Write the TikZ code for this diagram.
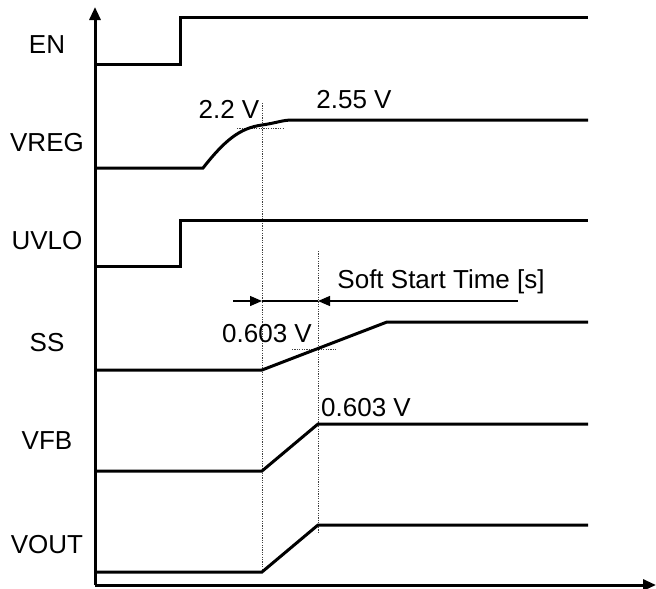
\documentclass[tikz,border=0pt]{standalone}
\usepackage{fontspec}
\setmainfont{Liberation Sans}
\usetikzlibrary{arrows.meta}
\begin{document}
\begin{tikzpicture}[x=1pt,y=-1pt,
  lbl/.style={font=\fontsize{26}{30}\selectfont, inner sep=0pt},
  wave/.style={line width=3pt, line join=miter},
  axisline/.style={line width=3pt, -{Triangle[length=13pt,width=11pt]}},
  guide/.style={line width=0.9pt, dash pattern=on 1.2pt off 1.2pt, black!75},
  dimarrow/.style={line width=1.3pt, -{Triangle[length=12pt,width=10pt]}}]
\useasboundingbox (0,0) rectangle (656,589);
% axes
\coordinate (O) at (95,585);
\coordinate (ytip) at (95,7);
\coordinate (xtip) at (656,585);
\draw[axisline] (O) -- (ytip);
\draw[axisline] (O) -- (xtip);
% signal labels
\node[lbl] (en) at (47,45) {EN};
\node[lbl] (vreg) at (47,143) {VREG};
\node[lbl] (uvlo) at (47,241) {UVLO};
\node[lbl] (ss) at (47,343) {SS};
\node[lbl] (vfb) at (47,441) {VFB};
\node[lbl] (vout) at (47,545) {VOUT};
% guides
\draw[guide] (262,103) -- (262,572);
\draw[guide] (318,251) -- (318,532);
\draw[guide] (237,128) -- (283,128);
\draw[guide] (292,349) -- (336,349);
% waveforms
\draw[wave] (95,64) -- (180,64) -- (180,17) -- (588,17);
\draw[wave] (95,168) -- (203,168) .. controls (225,140) and (240,128) .. (262,125) .. controls (276,123) and (283,120) .. (292,120) -- (588,120);
\draw[wave] (95,266) -- (180,266) -- (180,220) -- (588,220);
\draw[wave] (95,370) -- (262,370) -- (387,322) -- (588,322);
\draw[wave] (95,471) -- (262,471) -- (318,424) -- (588,424);
\draw[wave] (95,572) -- (262,572) -- (318,525) -- (588,525);
% value labels
\node[lbl] (v22) at (229,109) {2.2 V};
\node[lbl] (v255) at (354,100) {2.55 V};
\node[lbl] (vss) at (267,334) {0.603 V};
\node[lbl] (vvfb) at (366,408) {0.603 V};
\node[lbl] (sst) at (441,282) {Soft Start Time [s]};
% soft start dimension
\coordinate (d0) at (233,301);
\coordinate (d1) at (262,301);
\coordinate (d2) at (318,301);
\coordinate (d3) at (518,301);
\draw[line width=1.3pt] (d1) -- (d2);
\draw[dimarrow] (d0) -- (d1);
\draw[dimarrow] (d3) -- (d2);
\end{tikzpicture}
\end{document}
